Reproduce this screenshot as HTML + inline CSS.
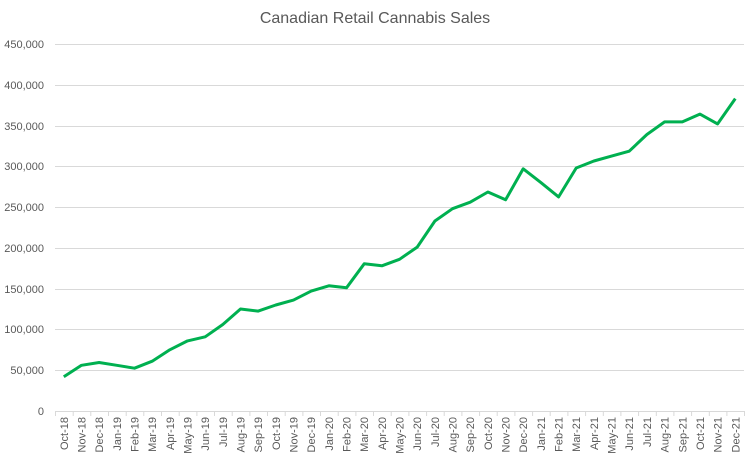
<!DOCTYPE html>
<html><head><meta charset="utf-8"><style>
html,body{margin:0;padding:0;background:#fff;}
svg{display:block;font-family:"Liberation Sans",sans-serif;}
</style></head><body>
<svg width="750" height="459" viewBox="0 0 750 459" xmlns="http://www.w3.org/2000/svg">
<text x="375" y="23" text-anchor="middle" font-size="16" fill="#595959">Canadian Retail Cannabis Sales</text>
<g stroke="#d9d9d9" stroke-width="1">
<line x1="55" x2="744" y1="44.5" y2="44.5"/>
<line x1="55" x2="744" y1="85.5" y2="85.5"/>
<line x1="55" x2="744" y1="126.5" y2="126.5"/>
<line x1="55" x2="744" y1="166.5" y2="166.5"/>
<line x1="55" x2="744" y1="207.5" y2="207.5"/>
<line x1="55" x2="744" y1="248.5" y2="248.5"/>
<line x1="55" x2="744" y1="289.5" y2="289.5"/>
<line x1="55" x2="744" y1="329.5" y2="329.5"/>
<line x1="55" x2="744" y1="370.5" y2="370.5"/>
<line x1="55" x2="744" y1="411.5" y2="411.5"/>
</g>
<g font-size="11" fill="#595959" text-anchor="end">
<text x="44" y="48">450,000</text>
<text x="44" y="89">400,000</text>
<text x="44" y="130">350,000</text>
<text x="44" y="170">300,000</text>
<text x="44" y="211">250,000</text>
<text x="44" y="252">200,000</text>
<text x="44" y="293">150,000</text>
<text x="44" y="333">100,000</text>
<text x="44" y="374">50,000</text>
<text x="44" y="415">0</text>
</g>
<g stroke="#d9d9d9" stroke-width="1" id="ticks"></g>
<polyline fill="none" stroke="#00b050" stroke-width="3" stroke-linejoin="round" points="63.8,376.7 81.5,365.3 99.1,362.5 116.8,365.3 134.5,368.2 152.2,361.2 169.8,349.8 187.5,340.9 205.2,336.8 222.8,324.5 240.5,309 258.2,311.1 275.8,305 293.5,300.1 311.2,291.1 328.9,285.8 346.5,287.8 364.2,263.8 381.9,265.8 399.5,259.3 417.2,247.1 434.9,221 452.5,208.7 470.2,202.2 487.9,192 505.6,199.8 523.2,168.8 540.9,182.6 558.6,196.9 576.2,168 593.9,161 611.6,156.1 629.2,151.2 646.9,134.5 664.6,121.9 682.3,121.9 699.9,114.1 717.6,123.9 735.3,98.6"/>
<g font-size="11" fill="#595959" text-anchor="end" id="xl">
<text transform="translate(67.8,417) rotate(-90)">Oct-18</text>
<text transform="translate(85.5,417) rotate(-90)">Nov-18</text>
<text transform="translate(103.1,417) rotate(-90)">Dec-18</text>
<text transform="translate(120.8,417) rotate(-90)">Jan-19</text>
<text transform="translate(138.5,417) rotate(-90)">Feb-19</text>
<text transform="translate(156.2,417) rotate(-90)">Mar-19</text>
<text transform="translate(173.8,417) rotate(-90)">Apr-19</text>
<text transform="translate(191.5,417) rotate(-90)">May-19</text>
<text transform="translate(209.2,417) rotate(-90)">Jun-19</text>
<text transform="translate(226.8,417) rotate(-90)">Jul-19</text>
<text transform="translate(244.5,417) rotate(-90)">Aug-19</text>
<text transform="translate(262.2,417) rotate(-90)">Sep-19</text>
<text transform="translate(279.8,417) rotate(-90)">Oct-19</text>
<text transform="translate(297.5,417) rotate(-90)">Nov-19</text>
<text transform="translate(315.2,417) rotate(-90)">Dec-19</text>
<text transform="translate(332.9,417) rotate(-90)">Jan-20</text>
<text transform="translate(350.5,417) rotate(-90)">Feb-20</text>
<text transform="translate(368.2,417) rotate(-90)">Mar-20</text>
<text transform="translate(385.9,417) rotate(-90)">Apr-20</text>
<text transform="translate(403.5,417) rotate(-90)">May-20</text>
<text transform="translate(421.2,417) rotate(-90)">Jun-20</text>
<text transform="translate(438.9,417) rotate(-90)">Jul-20</text>
<text transform="translate(456.5,417) rotate(-90)">Aug-20</text>
<text transform="translate(474.2,417) rotate(-90)">Sep-20</text>
<text transform="translate(491.9,417) rotate(-90)">Oct-20</text>
<text transform="translate(509.6,417) rotate(-90)">Nov-20</text>
<text transform="translate(527.2,417) rotate(-90)">Dec-20</text>
<text transform="translate(544.9,417) rotate(-90)">Jan-21</text>
<text transform="translate(562.6,417) rotate(-90)">Feb-21</text>
<text transform="translate(580.2,417) rotate(-90)">Mar-21</text>
<text transform="translate(597.9,417) rotate(-90)">Apr-21</text>
<text transform="translate(615.6,417) rotate(-90)">May-21</text>
<text transform="translate(633.2,417) rotate(-90)">Jun-21</text>
<text transform="translate(650.9,417) rotate(-90)">Jul-21</text>
<text transform="translate(668.6,417) rotate(-90)">Aug-21</text>
<text transform="translate(686.3,417) rotate(-90)">Sep-21</text>
<text transform="translate(703.9,417) rotate(-90)">Oct-21</text>
<text transform="translate(721.6,417) rotate(-90)">Nov-21</text>
<text transform="translate(739.3,417) rotate(-90)">Dec-21</text>
</g>
<path stroke="#d9d9d9" stroke-width="1" d="M55.5,411v5M73.2,411v5M90.8,411v5M108.5,411v5M126.2,411v5M143.8,411v5M161.5,411v5M179.2,411v5M196.9,411v5M214.5,411v5M232.2,411v5M249.9,411v5M267.5,411v5M285.2,411v5M302.9,411v5M320.5,411v5M338.2,411v5M355.9,411v5M373.5,411v5M391.2,411v5M408.9,411v5M426.6,411v5M444.2,411v5M461.9,411v5M479.6,411v5M497.2,411v5M514.9,411v5M532.6,411v5M550.2,411v5M567.9,411v5M585.6,411v5M603.3,411v5M620.9,411v5M638.6,411v5M656.3,411v5M673.9,411v5M691.6,411v5M709.3,411v5M726.9,411v5M744.5,411v5"/>
</svg>
</body></html>
